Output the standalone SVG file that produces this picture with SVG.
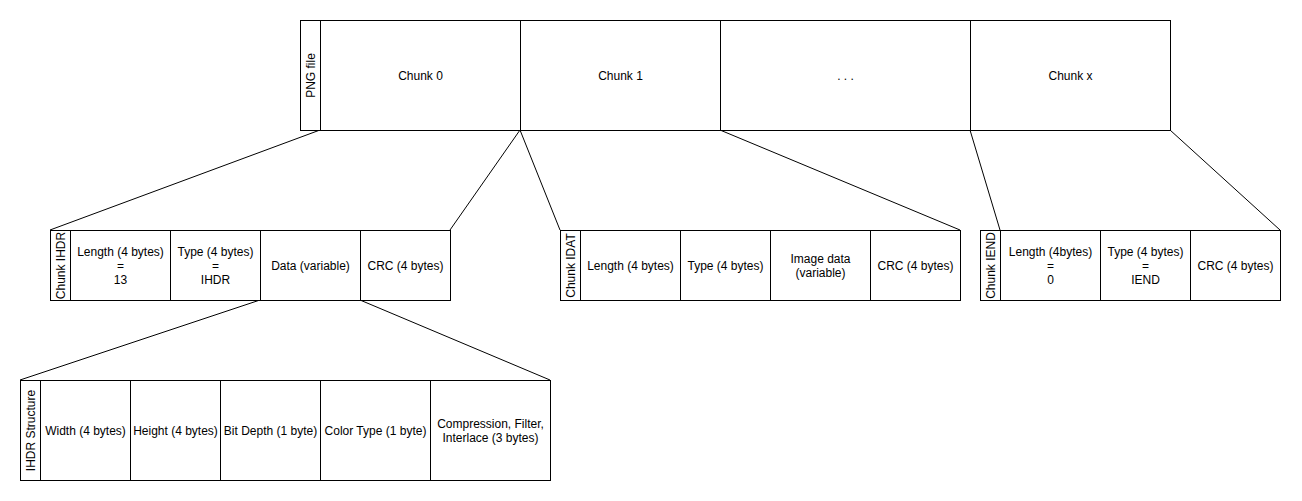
<svg xmlns="http://www.w3.org/2000/svg" width="1302" height="501" viewBox="0 0 1302 501">
<style>
rect{fill:#fff;stroke:#000;stroke-width:1}
text{font-family:"Liberation Sans",Arial,sans-serif;font-size:12px;fill:#000;text-anchor:middle;dominant-baseline:central}
.c line{stroke:#000;stroke-width:1}
</style>
<rect x="0" y="0" width="1302" height="501" style="stroke:none"/>
<g class="c" id="connectors">
<line x1="320" y1="130" x2="50" y2="230"/>
<line x1="520" y1="130" x2="450" y2="230"/>
<line x1="520" y1="130" x2="560" y2="230"/>
<line x1="720" y1="130" x2="960" y2="230"/>
<line x1="970" y1="130" x2="1000" y2="230"/>
<line x1="1170" y1="130" x2="1280" y2="230"/>
<line x1="260" y1="300" x2="20" y2="380"/>
<line x1="360" y1="300" x2="550" y2="380"/>
</g>
<g id="png-file">
<rect x="300.5" y="20.5" width="20" height="110"/>
<text transform="translate(310.5,75.5) rotate(-90)">PNG file</text>
<rect x="320.5" y="20.5" width="200" height="110"/>
<text x="420.5" y="75.5">Chunk 0</text>
<rect x="520.5" y="20.5" width="200" height="110"/>
<text x="620.5" y="75.5">Chunk 1</text>
<rect x="720.5" y="20.5" width="250" height="110"/>
<text x="845.5" y="75.5" xml:space="preserve">. . .</text>
<rect x="970.5" y="20.5" width="200" height="110"/>
<text x="1070.5" y="75.5">Chunk x</text>
</g>
<g id="chunk-ihdr">
<rect x="50.5" y="230.5" width="20" height="70"/>
<text transform="translate(60.5,265.5) rotate(-90)">Chunk IHDR</text>
<rect x="70.5" y="230.5" width="100" height="70"/>
<text x="120.5" y="251.5">Length (4 bytes)</text>
<text x="120.5" y="265.5">=</text>
<text x="120.5" y="279.5">13</text>
<rect x="170.5" y="230.5" width="90" height="70"/>
<text x="215.5" y="251.5">Type (4 bytes)</text>
<text x="215.5" y="265.5">=</text>
<text x="215.5" y="279.5">IHDR</text>
<rect x="260.5" y="230.5" width="100" height="70"/>
<text x="310.5" y="265.5">Data (variable)</text>
<rect x="360.5" y="230.5" width="90" height="70"/>
<text x="405.5" y="265.5">CRC (4 bytes)</text>
</g>
<g id="chunk-idat">
<rect x="560.5" y="230.5" width="20" height="70"/>
<text transform="translate(570.5,265.5) rotate(-90)">Chunk IDAT</text>
<rect x="580.5" y="230.5" width="100" height="70"/>
<text x="630.5" y="265.5">Length (4 bytes)</text>
<rect x="680.5" y="230.5" width="90" height="70"/>
<text x="725.5" y="265.5">Type (4 bytes)</text>
<rect x="770.5" y="230.5" width="100" height="70"/>
<text x="820.5" y="258.5">Image data</text>
<text x="820.5" y="272.5">(variable)</text>
<rect x="870.5" y="230.5" width="90" height="70"/>
<text x="915.5" y="265.5">CRC (4 bytes)</text>
</g>
<g id="chunk-iend">
<rect x="980.5" y="230.5" width="20" height="70"/>
<text transform="translate(990.5,265.5) rotate(-90)">Chunk IEND</text>
<rect x="1000.5" y="230.5" width="100" height="70"/>
<text x="1050.5" y="251.5">Length (4bytes)</text>
<text x="1050.5" y="265.5">=</text>
<text x="1050.5" y="279.5">0</text>
<rect x="1100.5" y="230.5" width="90" height="70"/>
<text x="1145.5" y="251.5">Type (4 bytes)</text>
<text x="1145.5" y="265.5">=</text>
<text x="1145.5" y="279.5">IEND</text>
<rect x="1190.5" y="230.5" width="90" height="70"/>
<text x="1235.5" y="265.5">CRC (4 bytes)</text>
</g>
<g id="ihdr-structure">
<rect x="20.5" y="380.5" width="20" height="100"/>
<text transform="translate(30.5,430.5) rotate(-90)">IHDR Structure</text>
<rect x="40.5" y="380.5" width="90" height="100"/>
<text x="85.5" y="430.5">Width (4 bytes)</text>
<rect x="130.5" y="380.5" width="90" height="100"/>
<text x="175.5" y="430.5">Height (4 bytes)</text>
<rect x="220.5" y="380.5" width="100" height="100"/>
<text x="270.5" y="430.5">Bit Depth (1 byte)</text>
<rect x="320.5" y="380.5" width="110" height="100"/>
<text x="375.5" y="430.5">Color Type (1 byte)</text>
<rect x="430.5" y="380.5" width="120" height="100"/>
<text x="490.5" y="423.5">Compression, Filter,</text>
<text x="490.5" y="437.5">Interlace (3 bytes)</text>
</g>
</svg>
